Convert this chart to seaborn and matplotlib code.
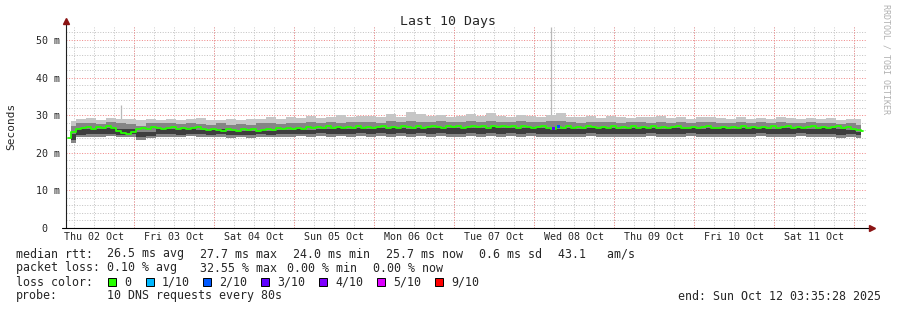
import numpy as np
import pandas as pd
import matplotlib
matplotlib.use("Agg")
import matplotlib.pyplot as plt
import matplotlib.dates as mdates
from matplotlib.patches import Rectangle
import seaborn as sns

# ---------------- data ----------------
start_time = "2025-10-02 03:35:28"
end_time = "2025-10-12 03:35:28"

day_labels = ["Thu 02 Oct", "Fri 03 Oct", "Sat 04 Oct", "Sun 05 Oct", "Mon 06 Oct",
              "Tue 07 Oct", "Wed 08 Oct", "Thu 09 Oct", "Fri 10 Oct", "Sat 11 Oct"]
y_ticks = [0, 10, 20, 30, 40, 50]
y_labels = ["0  ", "10 m", "20 m", "30 m", "40 m", "50 m"]

# median rtt (ms), one value per 1.5 h
median_ms = [
    24.0, 25.6, 26.3, 26.6, 26.9, 26.4, 26.8, 26.5, 27.0, 26.6,
    25.8, 25.3, 25.0, 25.6, 26.4, 26.7, 26.3, 26.8, 26.5, 26.2,
    26.6, 26.9, 26.4, 26.7, 26.2, 26.5, 26.8, 26.3, 26.0, 26.4,
    26.1, 25.9, 26.3, 26.0, 25.8, 26.2, 26.0, 26.4, 25.9, 26.1,
    26.3, 26.0, 26.5, 26.2, 26.6, 26.3, 26.7, 26.4, 26.8, 26.5,
    26.9, 26.6, 27.0, 26.7, 26.9, 26.5, 26.8, 26.6, 27.1, 26.7,
    26.9, 26.5, 26.8, 27.0, 26.6, 26.9, 26.7, 27.1, 26.8, 26.6,
    27.0, 26.7, 26.9, 27.2, 26.8, 26.6, 27.0, 26.8, 27.1, 26.7,
    26.9, 27.2, 26.8, 27.0, 26.7, 27.1, 26.9, 27.2, 26.8, 27.0,
    26.7, 27.1, 26.9, 26.6, 26.8, 27.0, 26.5, 26.4, 26.9, 26.7,
    27.0, 26.6, 26.9, 26.7, 27.1, 26.8, 26.5, 26.9, 26.7, 27.0,
    26.6, 26.9, 26.7, 27.0, 26.5, 26.8, 26.6, 27.0, 26.7, 26.9,
    26.6, 26.8, 27.0, 26.7, 26.5, 26.9, 26.6, 26.8, 27.0, 26.7,
    26.5, 26.8, 26.6, 26.9, 26.7, 27.0, 26.6, 26.8, 26.5, 26.9,
    26.7, 27.0, 26.6, 26.8, 27.1, 26.7, 26.9, 26.6, 26.8, 27.0,
    26.7, 26.9, 26.6, 26.8, 27.0, 26.5, 26.8, 26.3, 26.0, 25.7,
]

# smoke envelope (ms), one value per 3 h
smoke_hi = [
    28.4, 28.9, 29.2, 28.8, 29.3, 28.9, 29.0, 28.7, 29.1, 28.8,
    29.0, 28.6, 28.9, 29.2, 28.7, 28.8, 29.0, 28.6, 28.9, 29.1,
    29.4, 29.0, 29.6, 29.2, 29.8, 29.3, 29.5, 30.1, 29.4, 29.7,
    29.9, 29.5, 30.4, 29.6, 30.8, 30.2, 29.7, 30.0, 29.6, 29.8,
    30.2, 29.7, 30.5, 29.9, 29.6, 30.1, 29.8, 29.5, 30.0, 30.6,
    29.6, 29.4, 29.8, 29.3, 29.7, 29.5, 29.2, 29.6, 29.4, 29.8,
    29.3, 29.5, 29.1, 29.4, 29.6, 29.2, 29.0, 29.4, 29.1, 29.3,
    29.0, 29.5, 29.2, 28.9, 29.3, 29.0, 29.2, 28.8, 29.1, 28.9,
]
smoke_upper = [
    27.0, 27.8, 28.0, 27.7, 28.1, 27.9, 27.6, 27.2, 27.9, 27.8,
    28.0, 27.7, 27.9, 27.6, 27.5, 27.8, 27.4, 27.6, 27.5, 27.8,
    27.9, 27.7, 28.0, 27.8, 28.1, 27.9, 28.2, 28.0, 28.3, 28.1,
    28.2, 28.0, 28.4, 28.1, 28.5, 28.3, 28.1, 28.4, 28.2, 28.3,
    28.4, 28.2, 28.5, 28.3, 28.1, 28.4, 28.2, 28.3, 28.5, 28.4,
    28.2, 28.0, 28.3, 28.1, 28.2, 28.0, 28.3, 28.1, 27.9, 28.2,
    28.0, 28.2, 27.9, 28.1, 28.3, 28.0, 27.9, 28.2, 28.0, 28.1,
    27.9, 28.2, 28.0, 27.8, 28.1, 27.9, 28.0, 27.7, 27.8, 27.4,
]
smoke_mid = [
    25.0, 26.2, 26.4, 26.3, 26.6, 26.2, 26.4, 25.4, 25.6, 26.2,
    26.4, 26.2, 26.5, 26.1, 26.0, 26.2, 25.8, 25.9, 25.7, 26.0,
    25.9, 26.1, 26.0, 26.3, 26.1, 26.4, 26.2, 26.5, 26.4, 26.6,
    26.4, 26.7, 26.5, 26.6, 26.4, 26.7, 26.5, 26.8, 26.6, 26.5,
    26.7, 26.5, 26.8, 26.6, 26.7, 26.5, 26.8, 26.7, 26.5, 26.4,
    26.6, 26.4, 26.7, 26.5, 26.6, 26.4, 26.6, 26.5, 26.7, 26.4,
    26.6, 26.5, 26.7, 26.4, 26.6, 26.5, 26.4, 26.6, 26.5, 26.7,
    26.4, 26.6, 26.5, 26.7, 26.4, 26.6, 26.5, 26.3, 26.0, 25.6,
]
smoke_lower = [
    23.4, 24.8, 25.0, 24.9, 25.1, 24.8, 25.0, 24.1, 24.5, 24.9,
    25.0, 24.8, 25.1, 24.9, 24.8, 25.0, 24.7, 24.8, 24.7, 24.9,
    24.8, 25.0, 24.9, 25.1, 24.9, 25.2, 25.0, 25.1, 25.0, 25.2,
    25.1, 25.3, 25.1, 25.2, 25.0, 25.3, 25.1, 25.2, 25.0, 25.1,
    25.2, 25.0, 25.3, 25.1, 25.2, 25.0, 25.2, 25.1, 24.9, 25.0,
    25.1, 24.9, 25.2, 25.0, 25.1, 24.9, 25.1, 25.0, 25.2, 24.9,
    25.1, 25.0, 25.2, 24.9, 25.1, 25.0, 24.9, 25.1, 25.0, 25.2,
    24.9, 25.1, 25.0, 25.2, 24.9, 25.1, 25.0, 24.8, 24.9, 24.7,
]
smoke_lo = [
    22.6, 24.1, 24.3, 24.2, 24.4, 24.1, 24.3, 23.3, 23.8, 24.2,
    24.3, 24.1, 24.4, 24.2, 24.1, 24.3, 24.0, 24.1, 24.0, 24.2,
    24.1, 24.3, 24.2, 24.4, 24.2, 24.4, 24.3, 24.4, 24.2, 24.4,
    24.3, 24.5, 24.3, 24.4, 24.2, 24.5, 24.3, 24.4, 24.2, 24.3,
    24.4, 24.2, 24.5, 24.3, 24.4, 24.2, 24.4, 24.3, 24.1, 24.2,
    24.3, 24.1, 24.4, 24.2, 24.3, 24.1, 24.3, 24.2, 24.4, 24.1,
    24.3, 24.2, 24.4, 24.1, 24.3, 24.2, 24.1, 24.3, 24.2, 24.4,
    24.1, 24.3, 24.2, 24.4, 24.1, 24.3, 24.2, 24.0, 24.1, 23.9,
]

# single-sample spikes of the maximum ping
spike_time = ["2025-10-02 20:05", "2025-10-08 05:05"]
spike_base = [28.5, 29.5]
spike_top = [32.7, 53.4]

# median samples with packet loss (index into median_ms, lost pings of 10)
loss_at = [97, 98]
loss_level = [3, 2]

loss_names = ["0", "1/10", "2/10", "3/10", "4/10", "5/10", "9/10"]
loss_colors = ["#26ff00", "#00b8ff", "#0059ff", "#5e00ff", "#7e00ff", "#dd00ff", "#ff0000"]
loss_palette = {0: "#26ff00", 1: "#00b8ff", 2: "#0059ff", 3: "#5e00ff",
                4: "#7e00ff", 5: "#dd00ff", 9: "#ff0000"}

# ---------------- figure ----------------
sns.set_theme(style="white")
plt.rcParams["font.family"] = ["DejaVu Sans Mono", "DejaVu Sans"]

W, H = 897, 310
fig = plt.figure(figsize=(W / 100, H / 100), dpi=100, facecolor="white")
ax = fig.add_axes([66 / W, 82 / H, 800 / W, 201 / H])
ax.set_facecolor("white")

t0 = pd.Timestamp(start_time)
t1 = pd.Timestamp(end_time)
med_times = pd.date_range(t0 + pd.Timedelta(minutes=45), periods=len(median_ms), freq="90min")
smoke_times = pd.date_range(t0 + pd.Timedelta(minutes=90), periods=len(smoke_hi), freq="180min")

med_df = pd.DataFrame({"time": med_times, "rtt": median_ms})
smoke_df = pd.DataFrame({"time": smoke_times, "lo": smoke_lo, "lower": smoke_lower,
                         "mid": smoke_mid, "upper": smoke_upper, "hi": smoke_hi})

# spikes
ax.vlines(pd.to_datetime(spike_time), spike_base, spike_top, color="#b8b8b8", lw=0.9, zorder=2)

# smoke
st = smoke_df["time"].values
ax.fill_between(st, smoke_df["lo"], smoke_df["hi"], step="mid", color="#c6c6c6", lw=0, zorder=3)
ax.fill_between(st, smoke_df["lo"], smoke_df["upper"], step="mid", color="#858585", lw=0, zorder=3)
ax.fill_between(st, smoke_df["lower"], smoke_df["mid"], step="mid", color="#3e3e3e", lw=0, zorder=3)

# median line
sns.lineplot(data=med_df, x="time", y="rtt", color="#26ff00", lw=1.3,
             drawstyle="steps-mid", ax=ax, zorder=5)

# loss-coloured median samples
loss_df = pd.DataFrame({"time": med_times[loss_at],
                        "rtt": [median_ms[i] for i in loss_at],
                        "loss": loss_level})
sns.scatterplot(data=loss_df, x="time", y="rtt", hue="loss", palette=loss_palette,
                marker="s", s=5, linewidth=0, legend=False, ax=ax, zorder=6)

# axes limits / ticks
ax.set_xlim(t0, t1)
ax.set_ylim(0, 53.45)
ax.set_xlabel("")
ax.set_ylabel("")

noon_ticks = pd.date_range("2025-10-02 12:00", periods=len(day_labels), freq="D")
ax.set_xticks(noon_ticks)
ax.set_xticklabels(day_labels, fontsize=7.2)
ax.xaxis.set_minor_locator(mdates.HourLocator(byhour=[0, 6, 12, 18]))
ax.set_yticks(y_ticks)
ax.set_yticklabels(y_labels, fontsize=7.2)
ax.yaxis.set_minor_locator(matplotlib.ticker.MultipleLocator(2))
ax.tick_params(axis="both", which="both", length=0)
ax.tick_params(axis="x", pad=3)
ax.tick_params(axis="y", pad=4.3)

grid_gray = "#c4c4c4"
grid_red = "#f08a8a"
dots = (0, (1, 1.6))
ax.set_axisbelow(True)
ax.grid(True, which="both", axis="x", color=grid_gray, lw=0.72, linestyle=dots)
ax.grid(True, which="minor", axis="y", color=grid_gray, lw=0.72, linestyle=dots)
ax.grid(True, which="major", axis="y", color=grid_red, lw=0.72, linestyle=dots)
for d in pd.date_range("2025-10-03", periods=10, freq="D"):
    ax.axvline(d, color=grid_red, lw=0.72, linestyle=dots, zorder=0.6)

for s in ax.spines.values():
    s.set_visible(False)

# axis lines with arrows
ax.plot([0, 0], [0, 1.025], transform=ax.transAxes, clip_on=False, color="#202020", lw=0.8, zorder=7)
ax.plot([-0.005, 1.006], [0, 0], transform=ax.transAxes, clip_on=False, color="#000000", lw=0.8, zorder=7)
ax.plot([0], [1.028], marker="^", ms=4.2, color="#8b1414", transform=ax.transAxes, clip_on=False, zorder=8)
ax.plot([1.008], [0], marker=">", ms=4.2, color="#8b1414", transform=ax.transAxes, clip_on=False, zorder=8)

# ---------------- texts ----------------
def fx(px):
    return px / W

def fy(py):
    return 1 - py / H

fig.text(fx(447.5), fy(24.5), "Last 10 Days", ha="center", va="baseline", fontsize=9.5)
fig.text(fx(11), fy(126), "Seconds", rotation=90, ha="center", va="center", fontsize=8.0)
fig.text(fx(886), fy(4), "RRDTOOL / TOBI OETIKER", rotation=-90, ha="center", va="top",
         fontsize=6.0, color="#b0b0b0")

fs = 8.4
line1 = [(16, "median rtt:"), (107, "26.5 ms avg"), (200, "27.7 ms max"), (293, "24.0 ms min"),
         (386, "25.7 ms now"), (479, "0.6 ms sd"), (558, "43.1   am/s")]
line2 = [(16, "packet loss:"), (107, "0.10 % avg"), (200, "32.55 % max"), (287, "0.00 % min"),
         (373, "0.00 % now")]
line4 = [(16, "probe:"), (107, "10 DNS requests every 80s"), (678, "end: Sun Oct 12 03:35:28 2025")]
for x, s in line1:
    fig.text(fx(x), fy(257.5), s, ha="left", va="baseline", fontsize=fs)
for x, s in line2:
    fig.text(fx(x), fy(271.5), s, ha="left", va="baseline", fontsize=fs)
for x, s in line4:
    fig.text(fx(x), fy(299.5), s, ha="left", va="baseline", fontsize=fs)

fig.text(fx(16), fy(285.5), "loss color:", ha="left", va="baseline", fontsize=fs)
box_x = [108, 146, 203, 261, 319, 377, 435]
for bx, name, col in zip(box_x, loss_names, loss_colors):
    fig.patches.append(Rectangle((fx(bx), fy(286)), 8 / W, 8 / H, transform=fig.transFigure,
                                 facecolor=col, edgecolor="black", lw=0.7))
    fig.text(fx(bx + 16), fy(285.5), name, ha="left", va="baseline", fontsize=fs)

fig.savefig("out.png", dpi=100, facecolor="white")
